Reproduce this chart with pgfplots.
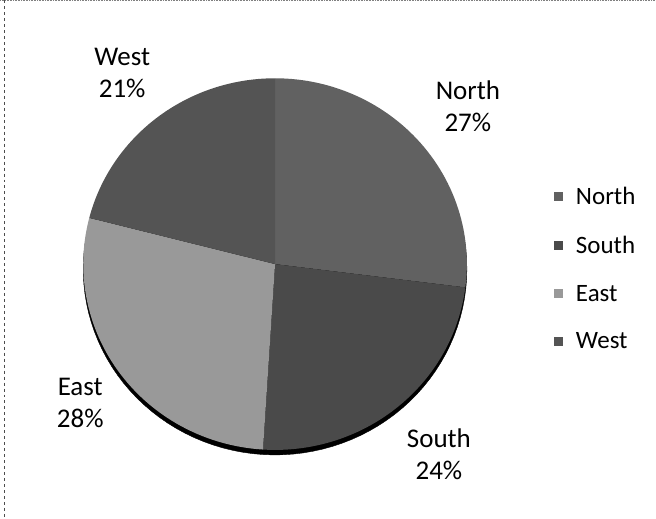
\documentclass[border=0pt]{standalone}
\usepackage{fontspec}
\setmainfont{Carlito}
\usepackage{pgfplots}
\usepackage{pgfplotstable}
\pgfplotsset{compat=1.18}

\pgfplotstableread{
region share
North 27
South 24
East 28
West 21
}\piedata

\definecolor{cNorth}{gray}{0.38}
\definecolor{cSouth}{gray}{0.29}
\definecolor{cEast}{gray}{0.60}
\definecolor{cWest}{gray}{0.33}

\begin{document}
\begin{tikzpicture}
\pgfplotstablegetelem{0}{share}\of\piedata \pgfmathsetmacro{\sN}{\pgfplotsretval}
\pgfplotstablegetelem{1}{share}\of\piedata \pgfmathsetmacro{\sS}{\pgfplotsretval}
\pgfplotstablegetelem{2}{share}\of\piedata \pgfmathsetmacro{\sE}{\pgfplotsretval}
\pgfplotstablegetelem{3}{share}\of\piedata \pgfmathsetmacro{\sW}{\pgfplotsretval}
\pgfmathsetmacro{\aA}{90}
\pgfmathsetmacro{\aB}{\aA-3.6*\sN}
\pgfmathsetmacro{\aC}{\aB-3.6*\sS}
\pgfmathsetmacro{\aD}{\aC-3.6*\sE}
\pgfmathsetmacro{\aE}{\aD-3.6*\sW}
\def\cx{275}\def\cy{254}\def\rx{192}\def\ry{186}
\begin{axis}[
  scale only axis, width=656bp, height=520bp,
  xmin=0, xmax=656, ymin=0, ymax=520,
  hide axis, clip=false,
  legend image code/.code={\fill[#1] (0bp,-4.5bp) rectangle (9bp,4.5bp); \path (20bp,0bp);},
  legend cell align=left,
  legend style={at={(axis cs:554,333)}, anchor=north west, draw=none, fill=none,
    font=\fontsize{25bp}{30bp}\selectfont, row sep=26bp, inner sep=0pt,
    nodes={inner sep=2bp}},
]
\addplot[black, fill=black, domain=0:360, samples=120, forget plot]
  ({\cx+\rx*cos(x)}, {\cy-5+\ry*sin(x)}) -- cycle;
\addplot[fill=cNorth, draw=none, domain=\aB:\aA, samples=60]
  ({\cx+\rx*cos(x)}, {\cy+\ry*sin(x)}) -- (axis cs:\cx,\cy) -- cycle;
\addlegendentry{North}
\addplot[fill=cSouth, draw=none, domain=\aC:\aB, samples=60]
  ({\cx+\rx*cos(x)}, {\cy+\ry*sin(x)}) -- (axis cs:\cx,\cy) -- cycle;
\addlegendentry{South}
\addplot[fill=cEast, draw=none, domain=\aD:\aC, samples=60]
  ({\cx+\rx*cos(x)}, {\cy+\ry*sin(x)}) -- (axis cs:\cx,\cy) -- cycle;
\addlegendentry{East}
\addplot[fill=cWest, draw=none, domain=\aE:\aD, samples=60]
  ({\cx+\rx*cos(x)}, {\cy+\ry*sin(x)}) -- (axis cs:\cx,\cy) -- cycle;
\addlegendentry{West}

\tikzset{lbl/.style={align=center, font=\fontsize{27bp}{32bp}\selectfont, inner sep=0pt}}
\node[lbl] at (axis cs:122,445) {West\\21\%};
\node[lbl] at (axis cs:468,412) {North\\27\%};
\node[lbl] at (axis cs:80,115) {East\\28\%};
\node[lbl] at (axis cs:439,64) {South\\24\%};

\draw[gray, densely dotted, line width=0.6bp] (axis cs:0,518) -- (axis cs:656,518);
\draw[black!70, dashed, line width=0.7bp] (axis cs:4,518) -- (axis cs:4,0);
\end{axis}
\end{tikzpicture}
\end{document}
